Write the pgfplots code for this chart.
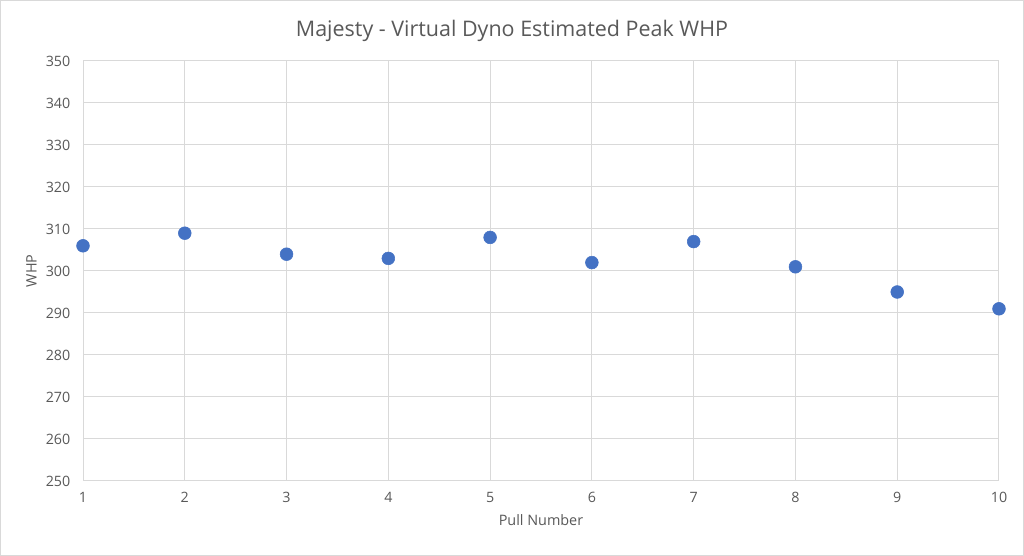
\documentclass[border=0pt]{standalone}
\usepackage{pgfplots}
\pgfplotsset{compat=1.18}
\usepackage{fontspec}
\setmainfont{Open Sans}
\definecolor{txt}{HTML}{595959}
\definecolor{grd}{HTML}{D9D9D9}
\definecolor{ser}{HTML}{4472C4}
\begin{document}
\begin{tikzpicture}
\fill[white] (0pt,0pt) rectangle (768pt,417pt);
\draw[grd] (0.4pt,0.4pt) rectangle (767.6pt,416.6pt);
\node[text=txt,font=\fontsize{16.1}{19}\selectfont] at (384pt,394pt) {Majesty - Virtual Dyno Estimated Peak WHP};
\begin{axis}[
  at={(62.25pt,56.25pt)}, anchor=south west,
  scale only axis, width=687pt, height=315pt,
  xmin=1, xmax=10, ymin=250, ymax=350,
  xtick={1,...,10}, ytick={250,260,...,350},
  grid=major, major grid style={grd, line width=0.75pt},
  axis line style={grd, line width=0.75pt},
  tick style={draw=none},
  ticklabel style={text=txt, font=\fontsize{10.7}{12}\selectfont},
  /pgf/number format/assume math mode=true,
  xticklabel style={yshift=-5pt},
  yticklabel style={xshift=-6pt},
  xlabel={Pull Number}, ylabel={WHP},
  label style={text=txt, font=\fontsize{10.8}{12}\selectfont},
  xlabel style={yshift=-2pt},
  ylabel style={yshift=0pt},
  clip=false,
]
\addplot[only marks, mark=*, mark size=4.8pt, color=ser, mark options={fill=ser, draw=ser}]
coordinates {(1,306) (2,309) (3,304) (4,303) (5,308) (6,302) (7,307) (8,301) (9,295) (10,291)};
\end{axis}
\end{tikzpicture}
\end{document}
